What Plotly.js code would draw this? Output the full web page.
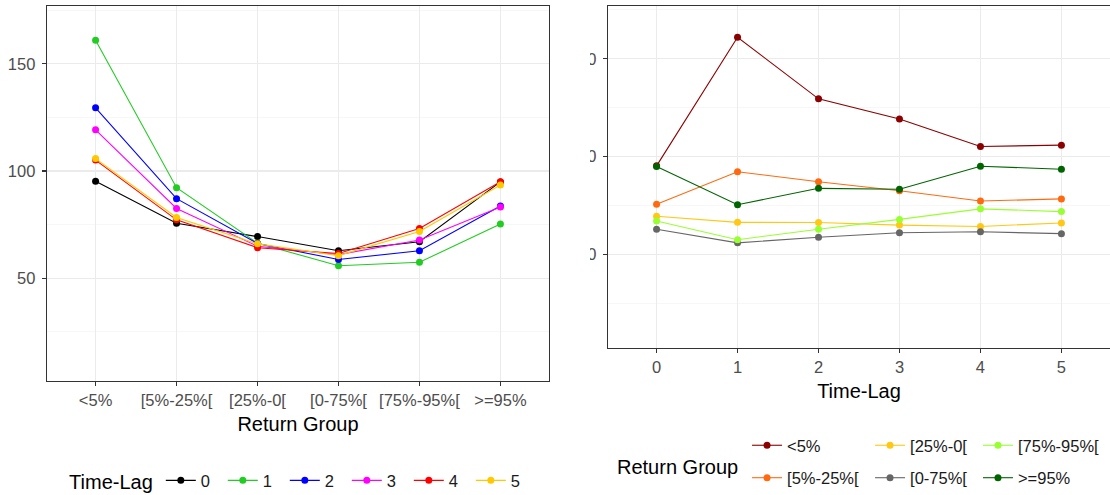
<!DOCTYPE html>
<html>
<head>
<meta charset="utf-8">
<script src="https://cdn.plot.ly/plotly-3.0.1.min.js"></script>
<style>
  html, body { margin: 0; padding: 0; background: #ffffff; }
  #left { position: absolute; left: 0; top: 0; width: 590px; height: 495px; }
  #rightClip { position: absolute; left: 590px; top: 0; width: 520px; height: 495px; overflow: hidden; }
  #right { position: absolute; left: -40px; top: 0; width: 560px; height: 495px; }
</style>
</head>
<body>
<div id="left"></div>
<div id="rightClip"><div id="right"></div></div>
<script>
// ---- data ----
const returnGroups = ['<5%', '[5%-25%[', '[25%-0[', '[0-75%[', '[75%-95%[', '>=95%'];
const timeLags = [0, 1, 2, 3, 4, 5];
// values per time-lag, ordered by return group
const lag0 = [95.2, 75.6, 69.4, 62.8, 67.0, 94.9];
const lag1 = [161.0, 92.2, 66.3, 55.8, 57.4, 75.3];
const lag2 = [129.5, 87.1, 66.2, 58.7, 62.8, 83.7];
const lag3 = [119.2, 82.5, 64.9, 61.0, 67.8, 83.2];
const lag4 = [105.1, 77.2, 64.2, 61.5, 73.2, 95.0];
const lag5 = [105.8, 78.3, 66.0, 60.5, 71.8, 93.5];
const lagSeries = [lag0, lag1, lag2, lag3, lag4, lag5];
const yTicks = [50, 100, 150];

const lagColors = ['#000000', '#22CC22', '#0000FF', '#FF00FF', '#FF0000', '#FFC800'];
const groupColors = ['#8B0000', '#FF6A10', '#FFC814', '#666666', '#99FF33', '#006400'];

const FONT = 'Liberation Sans, Arial, sans-serif';
const tickFont = { family: FONT, size: 16.5, color: '#4D4D4D' };
const titleFont = { family: FONT, size: 20, color: '#000000' };
const legendFont = { family: FONT, size: 16.5, color: '#1A1A1A' };

function yAxisSpec() {
  return {
    range: [2, 177], tickvals: yTicks, ticks: 'outside', ticklen: 4, tickwidth: 1.1,
    tickcolor: '#333333', tickfont: tickFont, ticklabelstandoff: 3,
    showgrid: true, gridcolor: '#EBEBEB', gridwidth: 1.1,
    minor: { tick0: 25, dtick: 50, showgrid: true, gridcolor: '#F2F2F2', gridwidth: 0.6, ticks: '' },
    showline: true, mirror: true, linecolor: '#333333', linewidth: 1.3, zeroline: false,
    fixedrange: true
  };
}

// ---- left panel: value by return group, one line per time-lag ----
const leftTraces = lagSeries.map((s, i) => ({
  type: 'scatter', mode: 'lines+markers',
  x: returnGroups, y: s, name: String(timeLags[i]),
  line: { color: lagColors[i], width: 1.1 },
  marker: { color: lagColors[i], size: 7 }
}));

const leftLayout = {
  width: 590, height: 495,
  margin: { l: 47, r: 41, t: 6, b: 114, autoexpand: false },
  paper_bgcolor: '#ffffff', plot_bgcolor: '#ffffff',
  font: { family: FONT },
  showlegend: true,
  xaxis: {
    type: 'category', categoryorder: 'array', categoryarray: returnGroups,
    range: [-0.6, 5.6], ticks: 'outside', ticklen: 4, tickwidth: 1.1, tickcolor: '#333333',
    tickfont: tickFont, showgrid: true, gridcolor: '#EBEBEB', gridwidth: 1.1,
    showline: true, mirror: true, linecolor: '#333333', linewidth: 1.3, zeroline: false,
    title: { text: 'Return Group', font: titleFont, standoff: 9 }
  },
  yaxis: yAxisSpec(),
  legend: {
    orientation: 'h', x: 0.04, xanchor: 'left', y: -0.267, yanchor: 'middle',
    title: { text: 'Time-Lag', side: 'left', font: titleFont },
    font: legendFont, entrywidth: 17, bgcolor: 'rgba(0,0,0,0)'
  }
};

// ---- right panel: value by time-lag, one line per return group ----
const legendFor = ['legend', 'legend', 'legend2', 'legend2', 'legend3', 'legend3'];
const rightTraces = returnGroups.map((g, gi) => ({
  type: 'scatter', mode: 'lines+markers',
  x: timeLags, y: lagSeries.map(s => s[gi]), name: g,
  legend: legendFor[gi], legendgroup: 'g' + gi,
  line: { color: groupColors[gi], width: 1.1 },
  marker: { color: groupColors[gi], size: 7 }
}));

function colLegend(px) {
  return {
    orientation: 'v', x: px, xanchor: 'left', y: -0.234, yanchor: 'top',
    traceorder: 'grouped', tracegroupgap: 8, font: legendFont, bgcolor: 'rgba(0,0,0,0)'
  };
}

const rightLayout = {
  width: 560, height: 495,
  margin: { l: 58, r: 0, t: 6, b: 147, autoexpand: false },
  paper_bgcolor: '#ffffff', plot_bgcolor: '#ffffff',
  font: { family: FONT },
  showlegend: true,
  xaxis: {
    range: [-0.6, 5.6], tickvals: timeLags, ticks: 'outside', ticklen: 4, tickwidth: 1.1,
    tickcolor: '#333333', tickfont: tickFont, showgrid: true, gridcolor: '#EBEBEB', gridwidth: 1.1,
    showline: true, mirror: true, linecolor: '#333333', linewidth: 1.3, zeroline: false,
    title: { text: 'Time-Lag', font: titleFont, standoff: 9 }
  },
  yaxis: yAxisSpec(),
  legend: colLegend(0.277),
  legend2: colLegend(0.522),
  legend3: colLegend(0.737),
  annotations: [{
    text: 'Return Group', xref: 'paper', yref: 'paper', x: 0.138, y: -0.348,
    xanchor: 'center', yanchor: 'middle', showarrow: false, font: titleFont
  }]
};

Plotly.newPlot('left', leftTraces, leftLayout, { displayModeBar: false, staticPlot: true });
Plotly.newPlot('right', rightTraces, rightLayout, { displayModeBar: false, staticPlot: true });
</script>
</body>
</html>
